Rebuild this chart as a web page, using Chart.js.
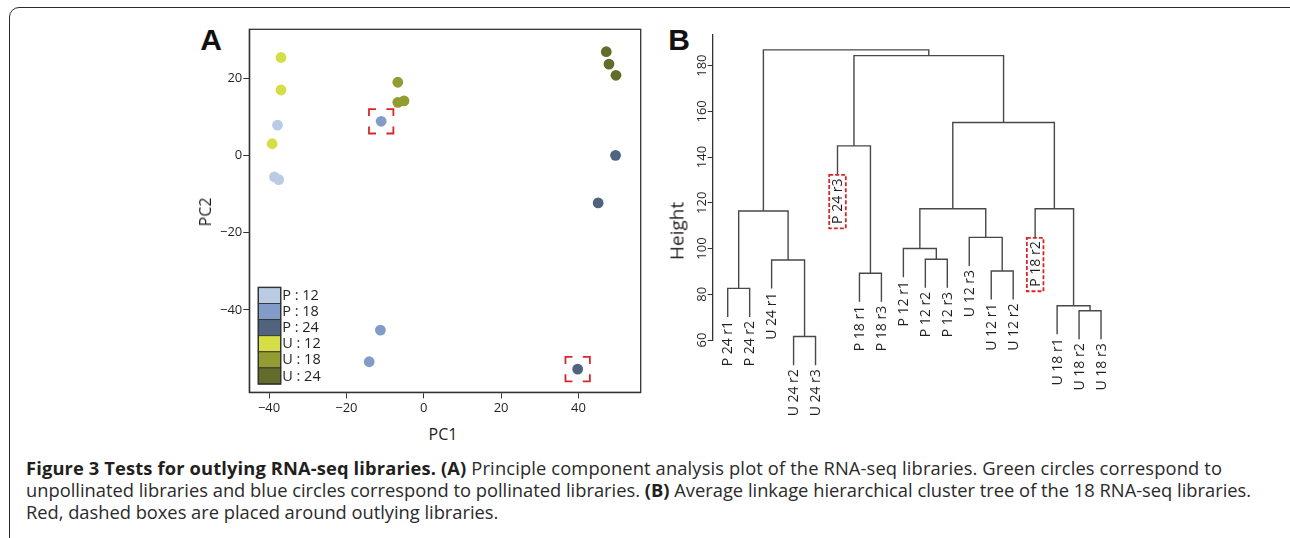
<!DOCTYPE html>
<html>
<head>
<meta charset="utf-8">
<script src="https://cdn.jsdelivr.net/npm/chart.js@4.4.0/dist/chart.umd.min.js"></script>
<style>
    html, body { margin: 0; padding: 0; background: #fff; width: 1290px; height: 538px; overflow: hidden; }
    body { font-family: "Open Sans", Lato, sans-serif; color: #231f20; position: relative; }
    #frame { position: absolute; left: 9px; top: 7px; width: 1300px; height: 545px; border: 1.5px solid #2b2b2b; border-radius: 10px; box-sizing: border-box; }
    #wrapA { position: absolute; left: 190px; top: 20px; width: 460px; height: 400px; }
    #wrapB { position: absolute; left: 660px; top: 20px; width: 470px; height: 420px; }
    .lbl { position: absolute; line-height: 1; white-space: nowrap; transform: translate(-50%, -50%); }
    .rot { transform: translate(-50%, -50%) rotate(-90deg); }
    .panel { font-family: "Liberation Sans", Arial, sans-serif; font-weight: bold; font-size: 30px; color: #111; }
    #caption { position: absolute; left: 26px; top: 456.5px; font-size: 16px; line-height: 22px; white-space: nowrap; color: #2a2a2a; }
    #caption b { color: #231f20; }
</style>
</head>
<body>
<div id="frame"></div>
<div class="lbl panel" style="left:211px; top:40px;">A</div>
<div class="lbl panel" style="left:679px; top:40px;">B</div>
<div id="wrapA"><canvas id="pcaChart"></canvas></div>
<div id="wrapB"><canvas id="treeChart"></canvas></div>
<div class="lbl" style="left:443px; top:434px; font-size:16px;">PC1</div>
<div class="lbl rot" style="left:205px; top:212px; font-size:16px;">PC2</div>
<div class="lbl rot" style="left:677px; top:231px; font-size:19px;">Height</div>
<div id="caption"><span id="capLine1"><b>Figure 3 Tests for outlying RNA-seq libraries.</b> <b>(A)</b> Principle component analysis plot of the RNA-seq libraries. Green circles correspond to</span><br><span id="capLine2">unpollinated libraries and blue circles correspond to pollinated libraries. <b>(B)</b> Average linkage hierarchical cluster tree of the 18 RNA-seq libraries.</span><br><span id="capLine3">Red, dashed boxes are placed around outlying libraries.</span></div>

<script>
// --- PANEL A: PCA SCORES ---
const groupNames = ['P : 12', 'P : 18', 'P : 24', 'U : 12', 'U : 18', 'U : 24'];
const groupColors = ['#b9cce4', '#819dc7', '#51647f', '#d5df45', '#939c31', '#646c2a'];

const p12X = [-37.8, -38.6, -37.5];
const p12Y = [7.8, -5.6, -6.3];
const p18X = [-11.0, -11.2, -14.1];
const p18Y = [8.8, -45.2, -53.4];
const p24X = [49.6, 45.1, 39.8];
const p24Y = [0.0, -12.3, -55.3];
const u12X = [-36.9, -36.9, -39.2];
const u12Y = [25.3, 16.9, 3.0];
const u18X = [-6.7, -6.7, -5.1];
const u18Y = [18.9, 13.7, 14.1];
const u24X = [47.2, 47.9, 49.7];
const u24Y = [26.8, 23.6, 20.7];

const pcaX = [p12X, p18X, p24X, u12X, u18X, u24X];
const pcaY = [p12Y, p18Y, p24Y, u12Y, u18Y, u24Y];

// outlying libraries: [group index, point index]
const pcaOutliers = [[1, 0], [2, 2]];

const pcTicks = [-40, -20, 0, 20, 40];

// --- PANEL B: AVERAGE LINKAGE TREE ---
// leaves in plotting order (left to right)
const leafLabels = ['P 24 r1', 'P 24 r2', 'U 24 r1', 'U 24 r2', 'U 24 r3', 'P 24 r3',
    'P 18 r1', 'P 18 r3', 'P 12 r1', 'P 12 r2', 'P 12 r3', 'U 12 r3',
    'U 12 r1', 'U 12 r2', 'P 18 r2', 'U 18 r1', 'U 18 r2', 'U 18 r3'];
// negative = leaf number, positive = earlier merge step (like R's hclust$merge)
const mergePairs = [
    [-4, -5], [-17, -18], [-16, 2], [-1, -2], [-7, -8], [-13, -14],
    [-3, 1], [-10, -11], [-9, 8], [-12, 6], [4, 7], [9, 10],
    [-15, 3], [-6, 5], [12, 13], [14, 15], [11, 16]
];
const mergeHeights = [61.5, 72.8, 75.0, 82.6, 89.2, 90.2, 95.0, 95.3, 100.0,
    104.9, 116.4, 117.4, 117.4, 144.9, 155.1, 184.4, 186.9];
const treeOutliers = ['P 24 r3', 'P 18 r2'];
const heightTicks = [60, 80, 100, 120, 140, 160, 180];
const hang = 12.5;

const minusFmt = v => String(v).replace('-', '\u2212');
const axisColor = '#333';
const textFont = '"Open Sans", Lato, sans-serif';

// --- CAPTION: match line lengths of the printed figure ---
function fitCaption() {
    const cap = document.getElementById('caption');
    const l2 = document.getElementById('capLine2');
    cap.style.fontSize = (16 * 1225.7 / l2.getBoundingClientRect().width).toFixed(2) + 'px';
    [['capLine1', 1196], ['capLine3', 472.3]].forEach(([id, target]) => {
        const el = document.getElementById(id);
        const w = el.getBoundingClientRect().width;
        el.style.letterSpacing = ((target - w) / el.textContent.length).toFixed(3) + 'px';
    });
}

// frame + corner brackets + legend for panel A
const pcaDecor = {
    id: 'pcaDecor',
    afterDatasetsDraw(chart) {
        const ctx = chart.ctx;
        const a = chart.chartArea;
        ctx.save();
        ctx.strokeStyle = axisColor;
        ctx.lineWidth = 1.3;
        ctx.strokeRect(a.left, a.top, a.right - a.left, a.bottom - a.top);

        // red corner brackets
        ctx.strokeStyle = '#d7262b';
        ctx.lineWidth = 1.8;
        pcaOutliers.forEach(([g, i]) => {
            const pt = chart.getDatasetMeta(g).data[i];
            const s = 12.2, arm = 7;
            [[-1, -1], [1, -1], [1, 1], [-1, 1]].forEach(([dx, dy]) => {
                const cx = pt.x + dx * s, cy = pt.y + dy * s;
                ctx.beginPath();
                ctx.moveTo(cx - dx * arm, cy);
                ctx.lineTo(cx, cy);
                ctx.lineTo(cx, cy - dy * arm);
                ctx.stroke();
            });
        });

        // legend
        const rowH = 16.1, sw = 22.4;
        const lx = a.left + 9, ly = a.bottom - 8.3 - rowH * groupNames.length;
        ctx.font = '14.5px ' + textFont;
        ctx.textBaseline = 'middle';
        ctx.textAlign = 'left';
        groupNames.forEach((name, k) => {
            const y = ly + k * rowH;
            ctx.fillStyle = groupColors[k];
            ctx.fillRect(lx, y, sw, rowH);
            ctx.strokeStyle = '#333';
            ctx.lineWidth = 0.9;
            ctx.strokeRect(lx, y, sw, rowH);
            ctx.fillStyle = '#231f20';
            ctx.fillText(name, lx + sw + 1.5, y + rowH / 2 + 0.5);
        });
        ctx.lineWidth = 1.4;
        ctx.strokeRect(lx, ly, sw, rowH * groupNames.length);
        ctx.restore();
    }
};

function renderPca() {
    const ctx = document.getElementById('pcaChart').getContext('2d');
    const datasets = groupNames.map((name, g) => ({
        label: name,
        data: pcaX[g].map((x, i) => ({ x: x, y: pcaY[g][i] })),
        backgroundColor: groupColors[g],
        borderWidth: 0,
        pointRadius: 5.4,
        pointHoverRadius: 5.4
    }));
    const tickFont = { family: textFont, size: 13 };
    new Chart(ctx, {
        type: 'scatter',
        data: { datasets: datasets },
        options: {
            responsive: true,
            maintainAspectRatio: false,
            animation: false,
            events: [],
            layout: { padding: { left: 14, top: 9.3, right: 9.3, bottom: 2.7 } },
            plugins: { legend: { display: false }, tooltip: { enabled: false } },
            scales: {
                x: {
                    type: 'linear', min: -45.1, max: 56.1,
                    afterBuildTicks: s => { s.ticks = pcTicks.map(v => ({ value: v })); },
                    afterFit: s => { s.height = 25; },
                    ticks: { font: tickFont, color: '#231f20', padding: 2, callback: minusFmt },
                    grid: { drawOnChartArea: false, tickLength: 6, color: axisColor },
                    border: { color: axisColor, width: 1.3 }
                },
                y: {
                    type: 'linear', min: -61.3, max: 32.6,
                    afterBuildTicks: s => { s.ticks = pcTicks.slice(0, 4).map(v => ({ value: v })); },
                    afterFit: s => { s.width = 45.3; },
                    ticks: { font: tickFont, color: '#231f20', padding: 1, callback: minusFmt },
                    grid: { drawOnChartArea: false, tickLength: 6, color: axisColor },
                    border: { color: axisColor, width: 1.3 }
                }
            }
        },
        plugins: [pcaDecor]
    });
}

// tree segments, one polyline per merge
const nodeX = [];
const leafBottom = [];
const childX = c => (c < 0 ? -c : nodeX[c - 1]);
const childH = (c, h) => (c < 0 ? h - hang : mergeHeights[c - 1]);
const treeSegments = mergePairs.map((pair, k) => {
    const h = mergeHeights[k];
    const xl = childX(pair[0]), xr = childX(pair[1]);
    nodeX[k] = (xl + xr) / 2;
    pair.forEach(c => { if (c < 0) leafBottom[-c - 1] = h - hang; });
    return [
        { x: xl, y: childH(pair[0], h) },
        { x: xl, y: h },
        { x: xr, y: h },
        { x: xr, y: childH(pair[1], h) }
    ];
});

// labels, rotated ticks and red boxes for panel B
const treeDecor = {
    id: 'treeDecor',
    afterDatasetsDraw(chart) {
        const ctx = chart.ctx;
        const xs = chart.scales.x, ys = chart.scales.y;
        ctx.save();
        ctx.fillStyle = '#231f20';
        ctx.textBaseline = 'middle';

        // rotated y tick labels
        ctx.font = '13px ' + textFont;
        ctx.textAlign = 'center';
        heightTicks.forEach(v => {
            ctx.save();
            ctx.translate(ys.right - 10.5, ys.getPixelForValue(v));
            ctx.rotate(-Math.PI / 2);
            ctx.fillText(String(v), 0, 0);
            ctx.restore();
        });

        // leaf labels
        ctx.font = '14px ' + textFont;
        ctx.textAlign = 'right';
        leafLabels.forEach((name, i) => {
            const x = xs.getPixelForValue(i + 1);
            const y = ys.getPixelForValue(leafBottom[i]);
            ctx.save();
            ctx.translate(x + 0.5, y + 4);
            ctx.rotate(-Math.PI / 2);
            ctx.fillText(name, 0, 0);
            ctx.restore();
            if (treeOutliers.includes(name)) {
                const w = ctx.measureText(name).width;
                ctx.save();
                ctx.strokeStyle = '#d7262b';
                ctx.lineWidth = 1.8;
                ctx.setLineDash([4, 2]);
                ctx.strokeRect(x - 8.3, y + 0.5, 16.6, w + 8);
                ctx.restore();
            }
        });
        ctx.restore();
    }
};

function renderTree() {
    const ctx = document.getElementById('treeChart').getContext('2d');
    const datasets = treeSegments.map(seg => ({
        data: seg,
        showLine: true,
        borderColor: '#484848',
        borderWidth: 1.4,
        pointRadius: 0,
        clip: false
    }));
    new Chart(ctx, {
        type: 'scatter',
        data: { datasets: datasets },
        options: {
            responsive: true,
            maintainAspectRatio: false,
            animation: false,
            events: [],
            layout: { padding: { left: 22.7, top: 15, right: 13.6, bottom: 100 } },
            plugins: { legend: { display: false }, tooltip: { enabled: false } },
            scales: {
                x: { type: 'linear', min: 0.317, max: 18.7, display: false },
                y: {
                    type: 'linear', min: 60, max: 193.4,
                    afterBuildTicks: s => { s.ticks = heightTicks.map(v => ({ value: v })); },
                    afterFit: s => { s.width = 30; },
                    ticks: { color: 'rgba(0,0,0,0)' },
                    grid: { drawOnChartArea: false, tickLength: 5, color: axisColor },
                    border: { color: axisColor, width: 1.3 }
                }
            }
        },
        plugins: [treeDecor]
    });
}

fitCaption();
renderPca();
renderTree();
</script>
</body>
</html>
